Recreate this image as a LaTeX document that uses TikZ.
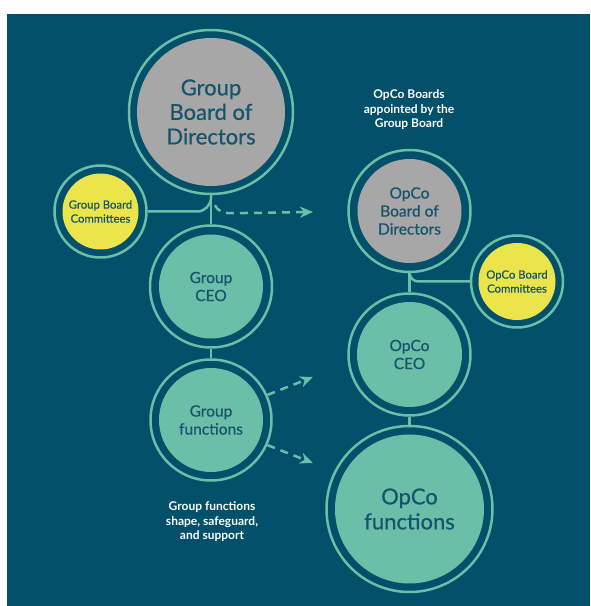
\documentclass[tikz,border=0pt]{standalone}
\usepackage{fontspec}
\setmainfont{Lato}
\newfontfamily\medfont{Lato}[FakeBold=0.6]
\usetikzlibrary{arrows.meta}

\definecolor{navy}{HTML}{02506A}
\definecolor{mint}{HTML}{6BBFA8}
\definecolor{stone}{HTML}{A7A7A7}
\definecolor{lemon}{HTML}{EBE44A}
\definecolor{ink}{HTML}{16546E}

\tikzset{
  ring/.style={circle, draw=mint, line width=2.5pt, inner sep=0pt},
  disk/.style={circle, inner sep=0pt, text=ink, align=center},
  link/.style={draw=mint, line width=2.5pt},
  flow/.style={draw=mint, line width=2.5pt, dash pattern=on 8pt off 6pt,
    -{Stealth[length=13pt,width=11pt,inset=4pt]}},
  note/.style={text=white, align=center, font=\bfseries\fontsize{12}{14.5}\selectfont},
}
\newcommand\largetxt{\medfont\fontsize{22}{24.5}\selectfont}
\newcommand\midtxt{\medfont\fontsize{15.5}{18}\selectfont}
\newcommand\smalltxt{\medfont\fontsize{11.3}{14}\selectfont}

\begin{document}
\begin{tikzpicture}[x=1pt,y=1pt]
	\useasboundingbox (0,0) rectangle (590,606);
	\fill[white] (0,0) rectangle (590,606);
	\fill[navy] (7,0) rectangle (590,592);
	% group side
	\node[ring, minimum size=164] (gbdR) at (211,494) {};
	\node[disk, fill=stone, minimum size=148, font=\largetxt] (gbd) at (gbdR) {Group\\Board of\\Directors};
	\node[ring, minimum size=92] (gbcR) at (100.5,394.5) {};
	\node[disk, fill=lemon, minimum size=76, font=\smalltxt] (gbc) at (gbcR) {Group Board\\Committees};
	\node[ring, minimum size=122] (gceoR) at (211,319.5) {};
	\node[disk, fill=mint, minimum size=104, font=\midtxt] (gceo) at (gceoR) {Group\\CEO};
	\node[ring, minimum size=121] (gfunR) at (211,186) {};
	\node[disk, fill=mint, minimum size=104, font=\midtxt] (gfun) at (gfunR) {Group\\functions};
	% opco side
	\node[ring, minimum size=122] (obdR) at (409.5,395) {};
	\node[disk, fill=stone, minimum size=104, font=\midtxt] (obd) at (obdR) {OpCo\\Board of\\Directors};
	\node[ring, minimum size=92] (obcR) at (517,324.5) {};
	\node[disk, fill=lemon, minimum size=77, font=\smalltxt] (obc) at (obcR) {OpCo Board\\Committees};
	\node[ring, minimum size=122] (oceoR) at (409.5,251.5) {};
	\node[disk, fill=mint, minimum size=105, font=\midtxt] (oceo) at (oceoR) {OpCo\\CEO};
	\node[ring, minimum size=166] (ofunR) at (409.5,97) {};
	\node[disk, fill=mint, minimum size=149, font=\medfont\fontsize{22}{25}\selectfont] (ofun) at (ofunR) {OpCo\\functions};
	% notes
	\node[note] (appointed) at (409,496) {OpCo Boards\\appointed by the\\Group Board};
	\node[note] (support) at (212,84) {Group functions\\shape, safeguard,\\and support};
	% reporting lines
	\draw[link] (gbdR.south) -- (gceoR.north);
	\draw[link] (gceoR.south) -- (gfunR.north);
	\draw[link, rounded corners=14] (gbcR.east) -| (gbdR.south);
	\draw[link] (obdR.south) -- (oceoR.north);
	\draw[link] (oceoR.south) -- (ofunR.north);
	\draw[link, rounded corners=9] (obdR.south) |- (obcR.west);
	% dashed arrows
	\coordinate (toBoard) at (313,394);
	\coordinate (toCeo) at (313,229);
	\coordinate (toFun) at (313,143);
	\draw[flow] ([shift={(4,-10)}]gbdR.south) .. controls +(2,-5) and +(-6,0) .. ++(14,-8) -- (toBoard);
	\draw[flow] (gfunR.24) -- (toCeo);
	\draw[flow] (gfunR.-24) -- (toFun);
\end{tikzpicture}
\end{document}
